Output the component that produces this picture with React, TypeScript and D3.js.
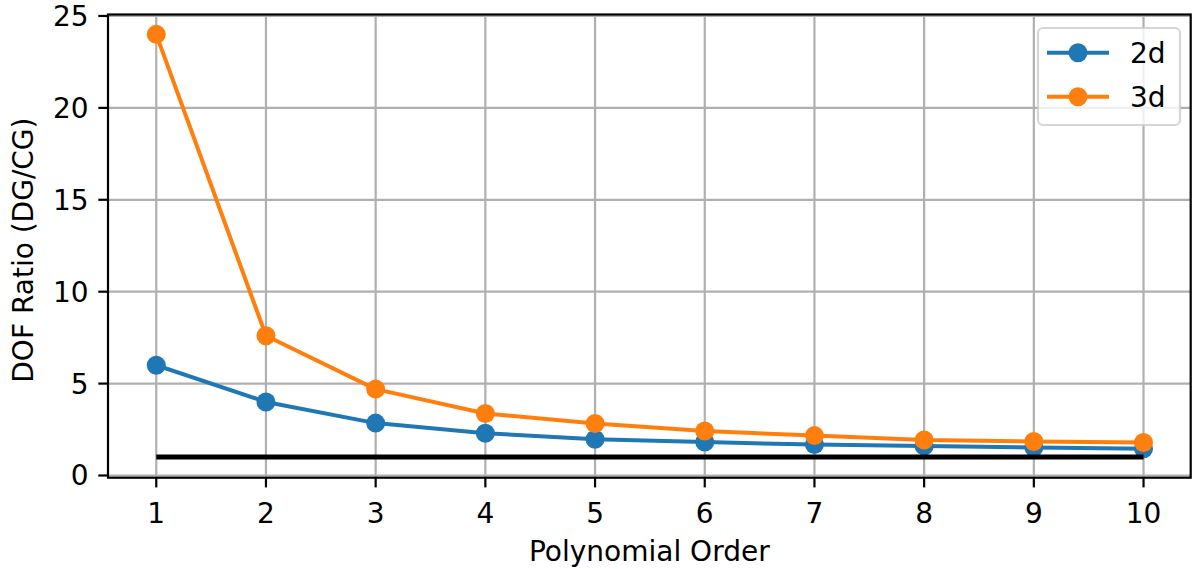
import React from "react";
import * as d3 from "d3";

// Polynomial order vs. ratio of DG to CG degrees of freedom
const orders = [1, 2, 3, 4, 5, 6, 7, 8, 9, 10];
const ratio2d = [6.0, 4.0, 2.85, 2.3, 1.97, 1.82, 1.68, 1.6, 1.52, 1.45];
const ratio3d = [24.0, 7.6, 4.7, 3.37, 2.83, 2.42, 2.17, 1.93, 1.85, 1.8];
const referenceLevel = 1;
const xTicks = [1, 2, 3, 4, 5, 6, 7, 8, 9, 10];
const yTicks = [0, 5, 10, 15, 20, 25];
const seriesNames = ["2d", "3d"];
const seriesColors = ["#1f77b4", "#ff7f0e"];

const W = 1193;
const H = 569;
const left = 108;
const right = 1190.7;
const top = 14.5;
const bottom = 477.7;
const FONT = "DejaVu Sans, sans-serif";
const FS = 28;

export default function App() {
  const x = d3.scaleLinear().domain([0.56, 10.43]).range([left, right]);
  const y = d3.scaleLinear().domain([-0.12, 25.08]).range([bottom, top]);

  const line = d3
    .line<[number, number]>()
    .x((d) => x(d[0]))
    .y((d) => y(d[1]));

  const series = [ratio2d, ratio3d].map((vals) =>
    orders.map((o, i) => [o, vals[i]] as [number, number])
  );

  const tickLen = 9.7;
  const legendRows = [52.7, 96.7];

  return (
    <svg
      width={W}
      height={H}
      style={{ position: "absolute", left: 0, top: 0, background: "#fff" }}
      fontFamily={FONT}
    >
      {/* grid */}
      <g stroke="#b0b0b0" strokeWidth={2.2}>
        {xTicks.map((t) => (
          <line key={"gx" + t} x1={x(t)} x2={x(t)} y1={top} y2={bottom} />
        ))}
        {yTicks.map((t) => (
          <line key={"gy" + t} x1={left} x2={right} y1={y(t)} y2={y(t)} />
        ))}
      </g>

      {/* data series */}
      {series.map((pts, si) => (
        <g key={"s" + si}>
          <path
            d={line(pts) || ""}
            fill="none"
            stroke={seriesColors[si]}
            strokeWidth={4}
            strokeLinejoin="round"
            strokeLinecap="square"
          />
          {pts.map((p, i) => (
            <circle
              key={i}
              cx={x(p[0])}
              cy={y(p[1])}
              r={9.5}
              fill={seriesColors[si]}
            />
          ))}
        </g>
      ))}

      {/* reference level */}
      <line
        x1={x(orders[0])}
        x2={x(orders[orders.length - 1])}
        y1={y(referenceLevel)}
        y2={y(referenceLevel)}
        stroke="#000"
        strokeWidth={5}
      />

      {/* spines */}
      <rect
        x={left}
        y={top}
        width={right - left}
        height={bottom - top}
        fill="none"
        stroke="#000"
        strokeWidth={2.2}
      />

      {/* x ticks */}
      <g>
        {xTicks.map((t) => (
          <g key={"xt" + t}>
            <line
              x1={x(t)}
              x2={x(t)}
              y1={bottom}
              y2={bottom + tickLen}
              stroke="#000"
              strokeWidth={2.2}
            />
            <text
              x={x(t)}
              y={523}
              fontSize={FS}
              textAnchor="middle"
              fill="#000"
            >
              {t}
            </text>
          </g>
        ))}
      </g>

      {/* y ticks */}
      <g>
        {yTicks.map((t) => (
          <g key={"yt" + t}>
            <line
              x1={left - tickLen}
              x2={left}
              y1={y(t)}
              y2={y(t)}
              stroke="#000"
              strokeWidth={2.2}
            />
            <text
              x={left - tickLen - 9.7}
              y={y(t) + 10}
              fontSize={FS}
              textAnchor="end"
              fill="#000"
            >
              {t}
            </text>
          </g>
        ))}
      </g>

      {/* axis labels */}
      <text
        x={(left + right) / 2}
        y={561}
        fontSize={FS}
        textAnchor="middle"
        fill="#000"
      >
        Polynomial Order
      </text>
      <text
        transform={`translate(33, ${(top + bottom) / 2 + 4}) rotate(-90)`}
        fontSize={FS}
        textAnchor="middle"
        fill="#000"
      >
        DOF Ratio (DG/CG)
      </text>

      {/* legend */}
      <g>
        <rect
          x={1038}
          y={28}
          width={142}
          height={97}
          rx={5}
          ry={5}
          fill="#ffffff"
          fillOpacity={0.8}
          stroke="#cccccc"
          strokeOpacity={0.8}
          strokeWidth={2.2}
        />
        {seriesNames.map((name, i) => (
          <g key={"lg" + name}>
            <line
              x1={1047}
              x2={1109}
              y1={legendRows[i]}
              y2={legendRows[i]}
              stroke={seriesColors[i]}
              strokeWidth={4}
            />
            <circle cx={1078} cy={legendRows[i]} r={9.5} fill={seriesColors[i]} />
            <text
              x={1130}
              y={legendRows[i] + 10}
              fontSize={FS}
              fill="#000"
            >
              {name}
            </text>
          </g>
        ))}
      </g>
    </svg>
  );
}
